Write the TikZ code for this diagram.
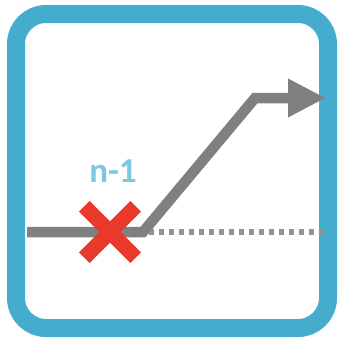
\documentclass[tikz,border=0pt]{standalone}
\usepackage{fontspec}
\setsansfont{Carlito}
\usetikzlibrary{positioning, arrows.meta}
\definecolor{frameblue}{RGB}{69,172,206}
\definecolor{labelblue}{RGB}{126,198,226}
\definecolor{crossred}{RGB}{232,57,43}
\colorlet{pathgray}{black!50}
\tikzset{
    frame box/.style={draw=frameblue, line width=18pt, rounded corners=30pt},
    route line/.style={draw=pathgray, line width=10.5pt, line join=miter},
    old line/.style={draw=pathgray!85, line width=5.5pt, dash pattern=on 4.5pt off 5.5pt},
    cross arm/.style={draw=crossred, line width=15pt},
    count label/.style={font=\sffamily\bfseries\fontsize{35}{35}\selectfont, text=labelblue, inner sep=0pt},
}

\begin{document}
\begin{tikzpicture}[x=1pt, y=-1pt]
            \useasboundingbox (0,0) rectangle (344,341);
            % frame
            \draw[frame box] (16,14) rectangle (328,328);
            % route points
            \coordinate (start) at (27,232);
            \coordinate (bend) at (143,232);
            \coordinate (top) at (255,98);
            \coordinate (tip) at (326,98);
            \coordinate (stop) at (326,232);
            \coordinate (fail) at (110,232);
            \draw[old line] ([xshift=6pt]bend) -- (stop);
            \draw[route line, -{Triangle[length=38pt, width=36pt]}] (start) -- (bend) -- (top) -- (tip);
            % failed element
            \foreach \dx/\dy in {1/1, 1/-1} {
                \draw[cross arm] ([shift={(-25.7*\dx,-25.7*\dy)}]fail) -- ([shift={(25.7*\dx,25.7*\dy)}]fail);
            }
            \node[count label] (count) at (113,171) {n-1};
        \end{tikzpicture}
\end{document}
